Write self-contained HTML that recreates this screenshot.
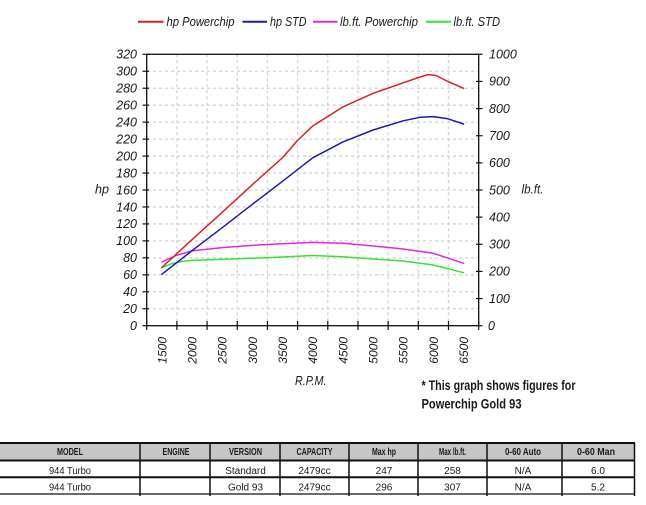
<!DOCTYPE html>
<html><head><meta charset="utf-8"><style>
html,body{margin:0;padding:0;background:#fff;}
svg{display:block;}
text{font-family:"Liberation Sans",Arial,sans-serif;fill:#1a1a1a;}
.it{font-style:italic;font-size:12.5px;}
</style></head><body>
<svg width="646" height="505" viewBox="0 0 646 505" xmlns="http://www.w3.org/2000/svg">
<rect width="646" height="505" fill="#fff"/>
<!-- legend -->
<g stroke-width="2">
<line x1="138" y1="21.7" x2="163.5" y2="21.7" stroke="#d42424"/>
<line x1="242.5" y1="21.7" x2="267" y2="21.7" stroke="#1b1ba8"/>
<line x1="313" y1="21.7" x2="337.5" y2="21.7" stroke="#e426e4"/>
<line x1="426" y1="21.7" x2="451" y2="21.7" stroke="#3ae03a"/>
</g>
<g class="it">
<text x="166.5" y="26" textLength="68" lengthAdjust="spacingAndGlyphs">hp Powerchip</text>
<text x="270" y="26" textLength="36.5" lengthAdjust="spacingAndGlyphs">hp STD</text>
<text x="340" y="26" textLength="78" lengthAdjust="spacingAndGlyphs">lb.ft. Powerchip</text>
<text x="453.5" y="26" textLength="46.5" lengthAdjust="spacingAndGlyphs">lb.ft. STD</text>
</g>
<!-- grid -->
<g stroke="#d4d4d4" stroke-width="1.3" stroke-dasharray="3 3">
<line x1="147" y1="308.74" x2="479" y2="308.74"/>
<line x1="147" y1="291.78" x2="479" y2="291.78"/>
<line x1="147" y1="274.81" x2="479" y2="274.81"/>
<line x1="147" y1="257.85" x2="479" y2="257.85"/>
<line x1="147" y1="240.89" x2="479" y2="240.89"/>
<line x1="147" y1="223.93" x2="479" y2="223.93"/>
<line x1="147" y1="206.96" x2="479" y2="206.96"/>
<line x1="147" y1="190" x2="479" y2="190"/>
<line x1="147" y1="173.04" x2="479" y2="173.04"/>
<line x1="147" y1="156.08" x2="479" y2="156.08"/>
<line x1="147" y1="139.11" x2="479" y2="139.11"/>
<line x1="147" y1="122.15" x2="479" y2="122.15"/>
<line x1="147" y1="105.19" x2="479" y2="105.19"/>
<line x1="147" y1="88.23" x2="479" y2="88.23"/>
<line x1="147" y1="71.26" x2="479" y2="71.26"/>
<line x1="176.88" y1="54.3" x2="176.88" y2="325.7"/>
<line x1="207.06" y1="54.3" x2="207.06" y2="325.7"/>
<line x1="237.24" y1="54.3" x2="237.24" y2="325.7"/>
<line x1="267.42" y1="54.3" x2="267.42" y2="325.7"/>
<line x1="297.6" y1="54.3" x2="297.6" y2="325.7"/>
<line x1="327.78" y1="54.3" x2="327.78" y2="325.7"/>
<line x1="357.96" y1="54.3" x2="357.96" y2="325.7"/>
<line x1="388.14" y1="54.3" x2="388.14" y2="325.7"/>
<line x1="418.32" y1="54.3" x2="418.32" y2="325.7"/>
<line x1="448.5" y1="54.3" x2="448.5" y2="325.7"/>
</g>
<!-- frame -->
<rect x="146.7" y="54.3" width="332" height="271.4" fill="none" stroke="#111" stroke-width="1.3"/>
<!-- ticks -->
<g stroke="#111" stroke-width="1.2">
<line x1="142.5" y1="325.7" x2="149" y2="325.7"/><line x1="142.5" y1="308.74" x2="149" y2="308.74"/><line x1="142.5" y1="291.78" x2="149" y2="291.78"/><line x1="142.5" y1="274.81" x2="149" y2="274.81"/><line x1="142.5" y1="257.85" x2="149" y2="257.85"/><line x1="142.5" y1="240.89" x2="149" y2="240.89"/><line x1="142.5" y1="223.93" x2="149" y2="223.93"/><line x1="142.5" y1="206.96" x2="149" y2="206.96"/><line x1="142.5" y1="190" x2="149" y2="190"/><line x1="142.5" y1="173.04" x2="149" y2="173.04"/><line x1="142.5" y1="156.08" x2="149" y2="156.08"/><line x1="142.5" y1="139.11" x2="149" y2="139.11"/><line x1="142.5" y1="122.15" x2="149" y2="122.15"/><line x1="142.5" y1="105.19" x2="149" y2="105.19"/><line x1="142.5" y1="88.23" x2="149" y2="88.23"/><line x1="142.5" y1="71.26" x2="149" y2="71.26"/><line x1="142.5" y1="54.3" x2="149" y2="54.3"/>
<line x1="476" y1="325.7" x2="482.5" y2="325.7"/><line x1="476" y1="298.56" x2="482.5" y2="298.56"/><line x1="476" y1="271.42" x2="482.5" y2="271.42"/><line x1="476" y1="244.28" x2="482.5" y2="244.28"/><line x1="476" y1="217.14" x2="482.5" y2="217.14"/><line x1="476" y1="190" x2="482.5" y2="190"/><line x1="476" y1="162.86" x2="482.5" y2="162.86"/><line x1="476" y1="135.72" x2="482.5" y2="135.72"/><line x1="476" y1="108.58" x2="482.5" y2="108.58"/><line x1="476" y1="81.44" x2="482.5" y2="81.44"/><line x1="476" y1="54.3" x2="482.5" y2="54.3"/>
<line x1="146.7" y1="321" x2="146.7" y2="330"/><line x1="176.88" y1="321" x2="176.88" y2="330"/><line x1="207.06" y1="321" x2="207.06" y2="330"/><line x1="237.24" y1="321" x2="237.24" y2="330"/><line x1="267.42" y1="321" x2="267.42" y2="330"/><line x1="297.6" y1="321" x2="297.6" y2="330"/><line x1="327.78" y1="321" x2="327.78" y2="330"/><line x1="357.96" y1="321" x2="357.96" y2="330"/><line x1="388.14" y1="321" x2="388.14" y2="330"/><line x1="418.32" y1="321" x2="418.32" y2="330"/><line x1="448.5" y1="321" x2="448.5" y2="330"/><line x1="478.7" y1="321" x2="478.7" y2="330"/>
</g>
<!-- left labels -->
<g class="it" text-anchor="end">
<text x="137" y="330">0</text><text x="137" y="313">20</text><text x="137" y="296">40</text><text x="137" y="279">60</text><text x="137" y="262">80</text><text x="137" y="245.2">100</text><text x="137" y="228.2">120</text><text x="137" y="211.3">140</text><text x="137" y="194.3">160</text><text x="137" y="177.3">180</text><text x="137" y="160.4">200</text><text x="137" y="143.4">220</text><text x="137" y="126.5">240</text><text x="137" y="109.5">260</text><text x="137" y="92.5">280</text><text x="137" y="75.6">300</text><text x="137" y="58.6">320</text>
</g>
<text class="it" x="95" y="193.5">hp</text>
<!-- right labels -->
<g class="it">
<text x="488" y="330">0</text><text x="489" y="302.9">100</text><text x="489" y="275.7">200</text><text x="489" y="248.6">300</text><text x="489" y="221.4">400</text><text x="489" y="194.3">500</text><text x="489" y="167.2">600</text><text x="489" y="140">700</text><text x="489" y="112.9">800</text><text x="489" y="85.7">900</text><text x="489" y="58.6">1000</text>
</g>
<text class="it" x="521.5" y="193.5" textLength="22" lengthAdjust="spacingAndGlyphs">lb.ft.</text>
<!-- x labels -->
<g class="it" text-anchor="end" style="font-size:12px">
<text transform="translate(166.3,337) rotate(-90)">1500</text>
<text transform="translate(196.5,337) rotate(-90)">2000</text>
<text transform="translate(226.7,337) rotate(-90)">2500</text>
<text transform="translate(256.8,337) rotate(-90)">3000</text>
<text transform="translate(287,337) rotate(-90)">3500</text>
<text transform="translate(317.2,337) rotate(-90)">4000</text>
<text transform="translate(347.4,337) rotate(-90)">4500</text>
<text transform="translate(377.6,337) rotate(-90)">5000</text>
<text transform="translate(407.7,337) rotate(-90)">5500</text>
<text transform="translate(437.9,337) rotate(-90)">6000</text>
<text transform="translate(468.1,337) rotate(-90)">6500</text>
</g>
<text class="it" x="295" y="385" textLength="31.5" lengthAdjust="spacingAndGlyphs">R.P.M.</text>
<!-- series -->
<g fill="none" stroke-width="1.5" stroke-linejoin="round" stroke-linecap="round">
<polyline stroke="#3ae03a" points="161.8,267.7 172,263.6 182,261.4 192,260.4 222.2,259.3 252.3,258.3 282.5,257 312.7,255.5 342.9,256.7 373.1,259 403.2,261 433.4,265 463.6,272.7"/>
<polyline stroke="#e426e4" points="161.8,262 176,255.5 192,250.9 222.2,247.6 252.3,245.4 282.5,243.8 312.7,242.4 342.9,243.3 373.1,246 403.2,249 433.4,253.3 463.6,263.3"/>
<polyline stroke="#1b1ba8" points="161.8,274.3 192,250.7 222.2,227.7 252.3,204.3 282.5,181.3 312.7,157.8 342.9,141.9 373.1,130 403.2,120.8 420,117.3 433.4,116.6 448,118.8 463.6,124"/>
<polyline stroke="#d42424" points="161.8,267.5 192,239.7 222.2,212.3 252.3,184.7 282.5,157.7 297,141 312.7,126 342.9,106.9 373.1,93.3 403.2,82.8 420,77 428,74.6 436,75.5 448,81.5 463.6,88.3"/>
</g>
<!-- note -->
<g style="font-weight:bold;font-size:14px">
<text x="421.5" y="390" textLength="154" lengthAdjust="spacingAndGlyphs">* This graph shows figures for</text>
<text x="421.5" y="408.5" textLength="100" lengthAdjust="spacingAndGlyphs">Powerchip Gold 93</text>
</g>
<!-- table -->
<rect x="0" y="443" width="634.5" height="16.5" fill="#c6c6c6"/>
<g stroke="#111">
<line x1="0" y1="443" x2="635" y2="443" stroke-width="2"/>
<line x1="0" y1="460.5" x2="635" y2="460.5" stroke-width="2"/>
<line x1="0" y1="477.3" x2="635" y2="477.3" stroke-width="2"/>
<line x1="0" y1="494" x2="635" y2="494" stroke-width="1.2"/>
<g stroke-width="1.5">
<line x1="140" y1="443" x2="140" y2="496"/>
<line x1="210" y1="443" x2="210" y2="496"/>
<line x1="280" y1="443" x2="280" y2="496"/>
<line x1="349" y1="443" x2="349" y2="496"/>
<line x1="418" y1="443" x2="418" y2="496"/>
<line x1="487" y1="443" x2="487" y2="496"/>
<line x1="562" y1="443" x2="562" y2="496"/>
<line x1="634.5" y1="443" x2="634.5" y2="496"/>
</g>
</g>
<g text-anchor="middle" style="font-weight:bold;font-size:10px">
<text x="70" y="455" textLength="26" lengthAdjust="spacingAndGlyphs">MODEL</text>
<text x="176" y="455" textLength="27" lengthAdjust="spacingAndGlyphs">ENGINE</text>
<text x="245.5" y="455" textLength="33" lengthAdjust="spacingAndGlyphs">VERSION</text>
<text x="314.5" y="455" textLength="36" lengthAdjust="spacingAndGlyphs">CAPACITY</text>
<text x="384" y="455" textLength="24" lengthAdjust="spacingAndGlyphs">Max hp</text>
<text x="452.5" y="455" textLength="27" lengthAdjust="spacingAndGlyphs">Max lb.ft.</text>
<text x="523" y="455" textLength="36" lengthAdjust="spacingAndGlyphs">0-60 Auto</text>
<text x="596" y="455" textLength="38" lengthAdjust="spacingAndGlyphs">0-60 Man</text>
</g>
<g text-anchor="middle" style="font-size:10px">
<text x="70" y="474" textLength="42" lengthAdjust="spacingAndGlyphs">944 Turbo</text>
<text x="245.5" y="474">Standard</text>
<text x="314.5" y="474">2479cc</text>
<text x="384" y="474">247</text>
<text x="452.5" y="474">258</text>
<text x="523" y="474">N/A</text>
<text x="598" y="474">6.0</text>
<text x="70" y="490.5" textLength="42" lengthAdjust="spacingAndGlyphs">944 Turbo</text>
<text x="245.5" y="490.5">Gold 93</text>
<text x="314.5" y="490.5">2479cc</text>
<text x="384" y="490.5">296</text>
<text x="452.5" y="490.5">307</text>
<text x="523" y="490.5">N/A</text>
<text x="598" y="490.5">5.2</text>
</g>
</svg>
</body></html>
